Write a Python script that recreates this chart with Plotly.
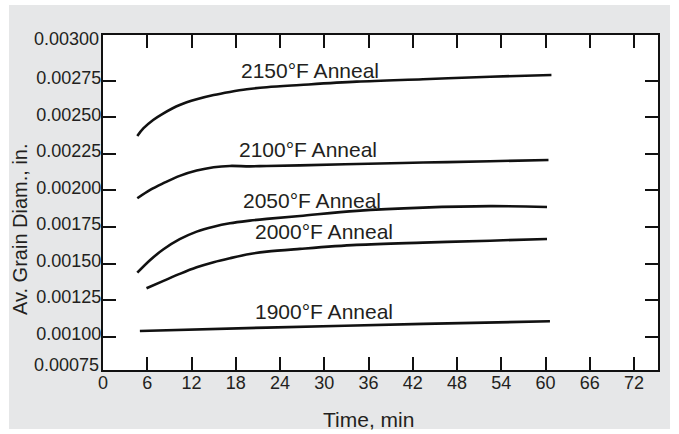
import plotly.graph_objects as go

# ---- data ----
t_2150 = [4.65, 5.5, 6.8, 8.2, 10.4, 12.7, 15.0, 17.2, 19.5, 22.2, 26.7, 34.4, 43.4, 52.5, 60.8]
d_2150 = [0.002372, 0.002425, 0.002481, 0.002527, 0.002584, 0.002623, 0.002652, 0.002673, 0.002691,
          0.002705, 0.002720, 0.002743, 0.002760, 0.002777, 0.002789]

t_2100 = [4.65, 6.4, 8.2, 10.4, 12.7, 15.0, 17.2, 19.9, 22.2, 26.7, 34.4, 43.4, 52.5, 60.4]
d_2100 = [0.001946, 0.002003, 0.002049, 0.002099, 0.002135, 0.002158, 0.002167, 0.002164, 0.002167,
          0.002171, 0.002180, 0.002190, 0.002199, 0.002208]

t_2050 = [4.65, 6.4, 8.2, 10.4, 12.7, 15.0, 17.2, 19.9, 22.2, 26.7, 34.4, 43.4, 52.5, 60.2]
d_2050 = [0.001437, 0.001524, 0.001597, 0.001666, 0.001718, 0.001752, 0.001775, 0.001793, 0.001805,
          0.001825, 0.001860, 0.001882, 0.001892, 0.001886]

t_2000 = [5.9, 8.2, 10.4, 12.7, 15.0, 17.2, 19.9, 22.2, 26.7, 34.4, 43.4, 52.5, 60.2]
d_2000 = [0.001331, 0.001381, 0.001429, 0.001474, 0.001509, 0.001536, 0.001565, 0.001581, 0.001600,
          0.001627, 0.001643, 0.001656, 0.001668]

t_1900 = [5.0, 22.2, 43.4, 60.6]
d_1900 = [0.001039, 0.001062, 0.001087, 0.001105]

series_names = ["2150°F Anneal", "2100°F Anneal", "2050°F Anneal", "2000°F Anneal", "1900°F Anneal"]
label_x = [28.0, 27.8, 28.4, 30.0, 29.9]
label_y = [0.002818, 0.002280, 0.001931, 0.001718, 0.001171]

x_tickvals = [0, 6, 12, 18, 24, 30, 36, 42, 48, 54, 60, 66, 72]
x_range = [0, 75.25]

y_range = [0.000772, 0.003062]
y_tickvals = [0.00100, 0.00125, 0.00150, 0.00175, 0.00200, 0.00225, 0.00250, 0.00275]
y_ticktext = ["0.00100", "0.00125", "0.00150", "0.00175", "0.00200", "0.00225", "0.00250", "0.00275"]
# labels printed at the bottom and top corners of the (non-uniform) scale in the original
y_edge_text = ["0.00075", "0.00300"]

x_title = "Time, min"
y_title = "Av. Grain Diam., in."

FONT = "Liberation Sans, Arial, Helvetica, sans-serif"
TXT = "#231f20"
GRAY = "#e6e7e8"

fig = go.Figure()
for tt, dd, nm in zip([t_2150, t_2100, t_2050, t_2000, t_1900],
                      [d_2150, d_2100, d_2050, d_2000, d_1900], series_names):
    fig.add_trace(go.Scatter(x=tt, y=dd, mode="lines", name=nm,
                             line=dict(color="#111111", width=2.6, shape="spline", smoothing=1.0),
                             showlegend=False, hoverinfo="skip"))

W, H = 679, 434
L, R, T, B = 103, 21, 35, 64
pw, ph = W - L - R, H - T - B

def px_to_paper_x(px):
    return (px - L) / pw

def py_to_paper_y(py):
    return (H - B - py) / ph

annotations = []
for nm, lx, ly in zip(series_names, label_x, label_y):
    annotations.append(dict(x=lx, y=ly, xref="x", yref="y", text=nm, showarrow=False,
                            xanchor="center", yanchor="middle",
                            font=dict(family=FONT, size=21, color=TXT)))
annotations.append(dict(x=px_to_paper_x(368), y=py_to_paper_y(419), xref="paper", yref="paper",
                        text=x_title, showarrow=False, xanchor="center", yanchor="middle",
                        font=dict(family=FONT, size=21, color=TXT)))
annotations.append(dict(x=px_to_paper_x(20), y=py_to_paper_y(229), xref="paper", yref="paper",
                        text=y_title, showarrow=False, textangle=-90, xanchor="center", yanchor="middle",
                        font=dict(family=FONT, size=20, color=TXT)))
for txt, py in zip(y_edge_text, [365, 39]):
    annotations.append(dict(x=px_to_paper_x(101), y=py_to_paper_y(py), xref="paper", yref="paper",
                            text=txt, showarrow=False, xanchor="right", yanchor="middle",
                            font=dict(family=FONT, size=18, color=TXT)))

shapes = [
    dict(type="rect", xref="paper", yref="paper", layer="below",
         x0=px_to_paper_x(9), x1=px_to_paper_x(670), y0=py_to_paper_y(429), y1=py_to_paper_y(5),
         fillcolor=GRAY, line=dict(width=0)),
    dict(type="rect", xref="paper", yref="paper", layer="below",
         x0=0, x1=1, y0=0, y1=1, fillcolor="white", line=dict(width=0)),
]

axis_common = dict(showline=True, linecolor="#111111", linewidth=2, mirror="ticks",
                   ticks="inside", ticklen=13, tickwidth=2, tickcolor="#111111",
                   showgrid=False, zeroline=False,
                   tickfont=dict(family=FONT, size=18, color=TXT))

fig.update_layout(
    width=W, height=H,
    margin=dict(l=L, r=R, t=T, b=B, pad=0),
    paper_bgcolor="white", plot_bgcolor="white",
    xaxis=dict(range=x_range, tickvals=x_tickvals, ticklabelstandoff=-5, **axis_common),
    yaxis=dict(range=y_range, tickvals=y_tickvals, ticktext=y_ticktext,
               ticklabelstandoff=-4, ticklabelshift=-3, **axis_common),
    annotations=annotations,
    shapes=shapes,
)

fig.write_html("out.html", config={"displayModeBar": False},
               post_script="document.body.style.margin='0';")
